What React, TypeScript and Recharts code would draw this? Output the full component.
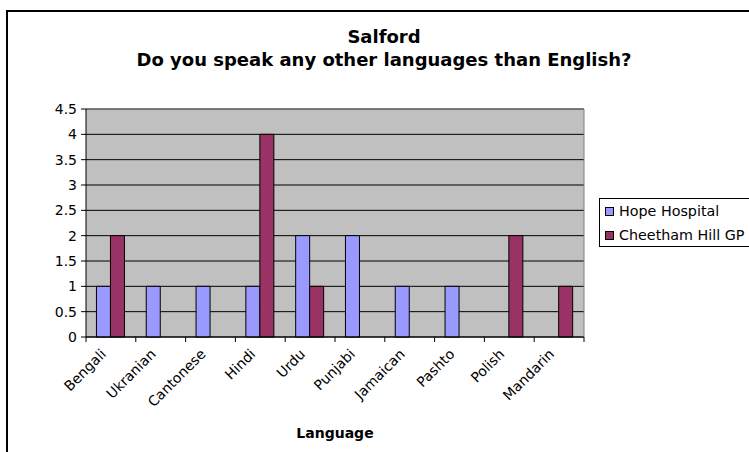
import React from 'react';
import { BarChart, Bar, XAxis, YAxis, CartesianGrid, ReferenceLine } from 'recharts';

const categories = ['Bengali', 'Ukranian', 'Cantonese', 'Hindi', 'Urdu', 'Punjabi', 'Jamaican', 'Pashto', 'Polish', 'Mandarin'];
const hopeHospital = [1, 1, 1, 1, 2, 2, 1, 1, 0, 0];
const cheethamHill = [2, 0, 0, 4, 1, 0, 0, 0, 2, 1];
const yTicks = [0, 0.5, 1, 1.5, 2, 2.5, 3, 3.5, 4, 4.5];
const seriesNames = ['Hope Hospital', 'Cheetham Hill GP'];
const seriesColors = ['#9999FF', '#993366'];
const titleLines = ['Salford', 'Do you speak any other languages than English?'];
const xAxisTitle = 'Language';

const data = categories.map((c, i) => ({ language: c, hope: hopeHospital[i], cheetham: cheethamHill[i] }));

const FONT = '"DejaVu Sans", Verdana, sans-serif';

function XTick(props: any) {
  const { x, y, payload, index, width, visibleTicksCount } = props;
  const band = width / visibleTicksCount;
  const left = x - band / 2;
  const right = x + band / 2;
  const px = x - 4;
  const py = y + 18;
  return (
    <g>
      <line x1={left} y1={y} x2={left} y2={y + 5} stroke="#000" />
      {index === visibleTicksCount - 1 && <line x1={right} y1={y} x2={right} y2={y + 5} stroke="#000" />}
      <text
        x={px}
        y={py}
        transform={`rotate(-45 ${px} ${py})`}
        textAnchor="end"
        fontSize={14}
        fontFamily={FONT}
        fill="#000"
      >
        {payload.value}
      </text>
    </g>
  );
}

export default function App() {
  return (
    <div style={{ position: 'relative', width: 749, height: 452, background: '#fff', overflow: 'hidden' }}>
      <style>{'body{margin:0}'}</style>
      <div
        style={{
          position: 'absolute',
          left: 6,
          top: 10,
          width: 800,
          height: 500,
          borderLeft: '2px solid #000',
          borderTop: '2px solid #000',
          boxSizing: 'border-box',
        }}
      />
      <div style={{ position: 'absolute', left: 0, top: 0 }}>
        <BarChart
          width={749}
          height={452}
          data={data}
          margin={{ top: 109, right: 165, left: 26, bottom: 0 }}
          barCategoryGap="21%"
          barGap={0}
        >
          <CartesianGrid vertical={false} stroke="#000" fill="#C0C0C0" fillOpacity={1} />
          <XAxis
            dataKey="language"
            height={115}
            tickLine={false}
            tickSize={0}
            tickMargin={0}
            axisLine={{ stroke: '#000' }}
            interval={0}
            tick={<XTick />}
          />
          <YAxis
            width={60}
            domain={[0, 4.5]}
            ticks={yTicks}
            interval={0}
            tickSize={5}
            tickMargin={4}
            tickLine={{ stroke: '#000' }}
            axisLine={{ stroke: '#000' }}
            tick={{ fill: '#000', fontSize: 14, fontFamily: FONT }}
            tickFormatter={(v: number) => String(v)}
          />
          <ReferenceLine y={4.5} stroke="#808080" />
          <Bar dataKey="hope" name={seriesNames[0]} fill={seriesColors[0]} stroke="#000" strokeWidth={1} isAnimationActive={false} />
          <Bar dataKey="cheetham" name={seriesNames[1]} fill={seriesColors[1]} stroke="#000" strokeWidth={1} isAnimationActive={false} />
        </BarChart>
      </div>
      <svg width={749} height={452} style={{ position: 'absolute', left: 0, top: 0, pointerEvents: 'none' }}>
        <line x1={584} y1={109} x2={584} y2={337} stroke="#808080" />
        <text x={384} y={43} textAnchor="middle" fontSize={18} fontWeight="bold" fontFamily={FONT} fill="#000">{titleLines[0]}</text>
        <text x={384} y={66} textAnchor="middle" fontSize={18} fontWeight="bold" fontFamily={FONT} fill="#000">{titleLines[1]}</text>
        <text x={335} y={438} textAnchor="middle" fontSize={14} fontWeight="bold" fontFamily={FONT} fill="#000">{xAxisTitle}</text>
      </svg>
      <div
        style={{
          position: 'absolute',
          left: 599,
          top: 198,
          width: 160,
          height: 49,
          border: '1px solid #000',
          boxSizing: 'border-box',
          background: '#fff',
          fontFamily: FONT,
          fontSize: 14.3,
          color: '#000',
        }}
      >
        {seriesNames.map((n, i) => (
          <div key={n} style={{ position: 'absolute', left: 5, top: 2 + i * 24, height: 20, display: 'flex', alignItems: 'center', whiteSpace: 'nowrap' }}>
            <span style={{ display: 'inline-block', width: 7, height: 7, border: '1px solid #000', background: seriesColors[i], marginRight: 5 }} />
            <span>{n}</span>
          </div>
        ))}
      </div>
    </div>
  );
}
